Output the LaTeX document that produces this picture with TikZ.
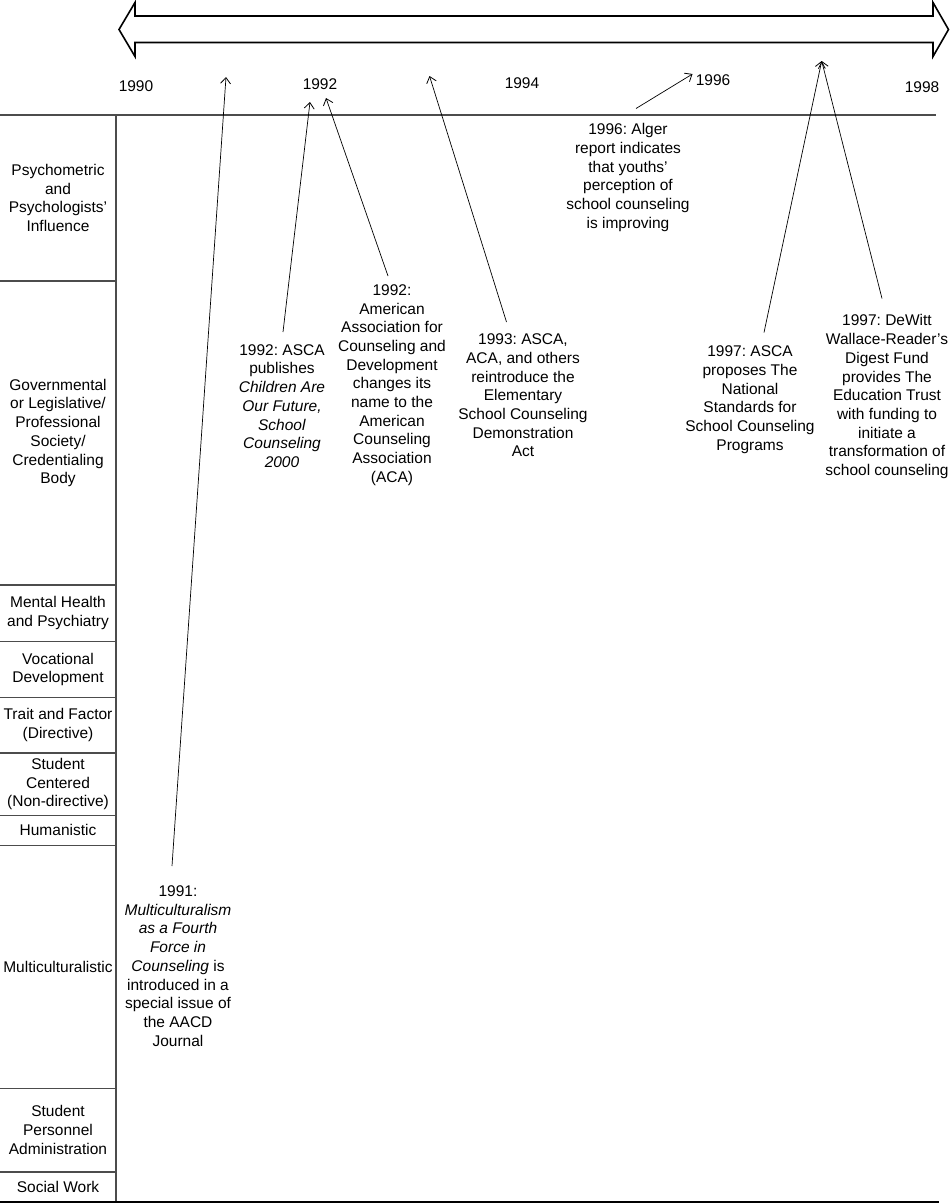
\documentclass[tikz,border=0pt]{standalone}
\usepackage{fontspec}
\setmainfont{Liberation Sans}
\usetikzlibrary{arrows.meta}
\frenchspacing
\tikzset{
  txt/.style={align=center, inner sep=0pt, font=\fontsize{15.5}{18.7}\selectfont\frenchspacing},
  rowlabel/.style={txt},
  yearlabel/.style={txt},
  grid/.style={line width=1.3pt, draw=black!70},
  conn/.style={line width=0.7pt, draw=black, -{Straight Barb[length=6pt,width=10pt,line width=0.8pt]}},
  bigarrow/.style={line width=1.6pt, draw=black, fill=white, line join=miter}
}
\begin{document}
\begin{tikzpicture}[x=1pt,y=-1pt]
\useasboundingbox (0,0) rectangle (950,1203);
\fill[white] (0,0) rectangle (950,1203);

% big double arrow
\draw[bigarrow] (119,29.5) -- (135,2.5) -- (135,16) -- (933,16) -- (933,2.5) -- (948.5,29.5) -- (933,56.5) -- (933,42.5) -- (135,42.5) -- (135,56.5) -- cycle;

% grid
\draw[grid] (0,115) -- (936,115);
\draw[grid] (116,115) -- (116,1202);
\draw[line width=1.6pt] (0,1202) -- (939,1202);
\foreach \yy in {281,585,641.5,697.5,753,815.5,845.5,1088.5,1172}
  \draw[grid] (0,\yy) -- (116,\yy);

% year labels
\node[yearlabel] (y1990) at (136,86) {1990};
\node[yearlabel] (y1992) at (320,84) {1992};
\node[yearlabel] (y1994) at (522,83) {1994};
\node[yearlabel] (y1996) at (713,80) {1996};
\node[yearlabel] (y1998) at (922,87) {1998};

% row labels
\node[rowlabel] (r1) at (58,198) {Psychometric\\and\\Psychologists’\\Influence};
\node[rowlabel] (r2) at (58,433) {Governmental\\or Legislative/\\Professional\\Society/\\Credentialing\\Body};
\node[rowlabel] (r3) at (58,613) {Mental Health\\and Psychiatry};
\node[rowlabel] (r4) at (58,669.5) {Vocational\\Development};
\node[rowlabel] (r5) at (58,725) {Trait and Factor\\(Directive)};
\node[rowlabel] (r6) at (58,784) {Student\\Centered\\(Non-directive)};
\node[rowlabel] (r7) at (58,830) {Humanistic};
\node[rowlabel] (r8) at (58,967) {Multiculturalistic};
\node[rowlabel] (r9) at (58,1130) {Student\\Personnel\\Administration};
\node[rowlabel] (r10) at (58,1187) {Social Work};

% events
\node[txt] (e1991) at (178,966) {1991:\\\textit{Multiculturalism}\\\textit{as a Fourth}\\\textit{Force in}\\\textit{Counseling} is\\introduced in a\\special issue of\\the AACD\\Journal};
\node[txt] (e1992a) at (282,406) {1992: ASCA\\publishes\\\textit{Children Are}\\\textit{Our Future,}\\\textit{School}\\\textit{Counseling}\\\textit{2000}};
\node[txt] (e1992b) at (392,385) {1992:\\American\\Association for\\Counseling and\\Development\\changes its\\name to the\\American\\Counseling\\Association\\(ACA)};
\node[txt] (e1993) at (523,395.5) {1993: ASCA,\\ACA, and others\\reintroduce the\\Elementary\\School Counseling\\Demonstration\\Act};
\node[txt] (e1996) at (628,177.5) {1996: Alger\\report indicates\\that youths’\\perception of\\school counseling\\is improving};
\node[txt] (e1997a) at (750,399.7) {1997: ASCA\\proposes The\\National\\Standards for\\School Counseling\\Programs};
\node[txt] (e1997b) at (887,396.7) {1997: DeWitt\\Wallace-Reader’s\\Digest Fund\\provides The\\Education Trust\\with funding to\\initiate a\\transformation of\\school counseling};

% connector ends
\coordinate (s1) at (172,866);   \coordinate (t1) at (226,77);
\coordinate (s2) at (283,332);   \coordinate (t2) at (310,102);
\coordinate (s3) at (388,276);   \coordinate (t3) at (326,98);
\coordinate (s4) at (506.5,322); \coordinate (t4) at (429.5,76);
\coordinate (s5) at (636,108.5); \coordinate (t5) at (692.5,74);
\coordinate (s6) at (764,332.5); \coordinate (t6) at (821.7,61);
\coordinate (s7) at (882,298.5);

\draw[conn] (s1) -- (t1);
\draw[conn] (s2) -- (t2);
\draw[conn] (s3) -- (t3);
\draw[conn] (s4) -- (t4);
\draw[conn] (s5) -- (t5);
\draw[conn] (s6) -- (t6);
\draw[conn] (s7) -- (t6);
\end{tikzpicture}
\end{document}
